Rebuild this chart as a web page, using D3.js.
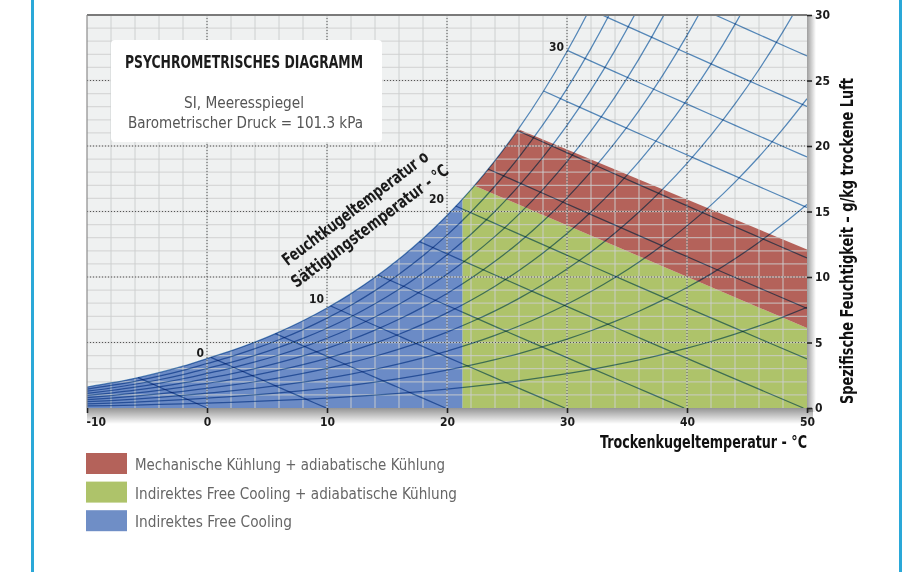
<!DOCTYPE html>
<html>
<head>
<meta charset="utf-8">
<script src="https://cdn.jsdelivr.net/npm/d3@7"></script>
<style>
body { margin: 0; background: #fff; }
svg { display: block; }
text { font-family: 'Liberation Sans Narrow', 'DejaVu Sans Condensed', Roboto, sans-serif; }
</style>
</head>
<body>
<script>
// dry bulb temperatures of the saturation table (°C)
var tempTable = [-10, -8, -6, -4, -2, 0, 2, 4, 6, 8, 10, 12, 14, 16, 18, 20,
                 22, 24, 26, 28, 30, 32, 34, 36, 38, 40, 42, 44, 46, 48, 50];
// saturation vapour pressure (kPa) for those temperatures
var satPressure = [0.2600, 0.3102, 0.3681, 0.4375, 0.5177, 0.6112, 0.7060, 0.8135,
                   0.9353, 1.0729, 1.2282, 1.4028, 1.5990, 1.8188, 2.0647, 2.3392,
                   2.6452, 2.9856, 3.3637, 3.7828, 4.2467, 4.7592, 5.3247, 5.9479,
                   6.6338, 7.3844, 8.2054, 9.1123, 10.103, 11.185, 12.352];
var rhLevels = [10, 20, 30, 40, 50, 60, 70, 80, 90];
var enthalpyLevels = [0, 10, 20, 30, 40, 50, 60, 70, 80, 90, 100, 110, 120];
var satLabels = [0, 10, 20, 30];
var xTicks = [-10, 0, 10, 20, 30, 40, 50];
var yTicks = [0, 5, 10, 15, 20, 25, 30];

// zone limits (°C, g/kg)
var freeCoolingLimit = 21.3;
var greenTopLine = [[22.2, 17.0], [50, 6.1]];
var redTopLine = [[25.9, 21.3], [50, 12.1]];

var legendLabels = ["Mechanische Kühlung + adiabatische Kühlung",
                    "Indirektes Free Cooling + adiabatische Kühlung",
                    "Indirektes Free Cooling"];
var legendColors = ["#b4625a", "#aec36a", "#6f8ec6"];

var width = 903, height = 572;
var plot = {left: 87, right: 807, top: 15, bottom: 408};
var P = 101.325;

var x = d3.scaleLinear().domain([-10, 50]).range([plot.left, plot.right]);
var y = d3.scaleLinear().domain([0, 30]).range([plot.bottom, plot.top]);

function humidity(p, phi) { return 622 * phi * p / (P - phi * p); }
function enthalpyW(h, t) { return 1000 * (h - 1.006 * t) / (2501 + 1.86 * t); }

var satPoints = tempTable.map(function(t, i) { return [t, humidity(satPressure[i], 1)]; });

var svg = d3.select("body").append("svg")
    .attr("width", width)
    .attr("height", height);

var defs = svg.append("defs");
defs.append("clipPath").attr("id", "plotClip").append("rect")
    .attr("x", plot.left).attr("y", plot.top)
    .attr("width", plot.right - plot.left).attr("height", plot.bottom - plot.top);

var satArea = d3.area()
    .x(function(d) { return x(d[0]); })
    .y0(y(0))
    .y1(function(d) { return y(d[1]); })
    .curve(d3.curveMonotoneX);
defs.append("clipPath").attr("id", "satClip").append("path").attr("d", satArea(satPoints));

var gr = defs.append("linearGradient").attr("id", "shadowR").attr("x1", 0).attr("x2", 1).attr("y1", 0).attr("y2", 0);
gr.append("stop").attr("offset", 0).attr("stop-color", "#000").attr("stop-opacity", 0.38);
gr.append("stop").attr("offset", 1).attr("stop-color", "#000").attr("stop-opacity", 0);
var gb = defs.append("linearGradient").attr("id", "shadowB").attr("x1", 0).attr("x2", 0).attr("y1", 0).attr("y2", 1);
gb.append("stop").attr("offset", 0).attr("stop-color", "#000").attr("stop-opacity", 0.42);
gb.append("stop").attr("offset", 1).attr("stop-color", "#000").attr("stop-opacity", 0);

// page frame
[32.5, 900.5].forEach(function(fx) {
    svg.append("line").attr("x1", fx).attr("x2", fx).attr("y1", 0).attr("y2", height)
        .attr("stroke", "#2aa8d8").attr("stroke-width", 3);
});

// drop shadows
svg.append("rect").attr("x", plot.right).attr("y", plot.top)
    .attr("width", 9).attr("height", plot.bottom - plot.top + 4).attr("fill", "url(#shadowR)");
svg.append("rect").attr("x", plot.left).attr("y", plot.bottom)
    .attr("width", plot.right - plot.left + 6).attr("height", 16).attr("fill", "url(#shadowB)");

svg.append("rect").attr("x", plot.left).attr("y", plot.top)
    .attr("width", plot.right - plot.left).attr("height", plot.bottom - plot.top)
    .attr("fill", "#eff1f1");

var poly = d3.line().x(function(d) { return x(d[0]); }).y(function(d) { return y(d[1]); });

var zones = svg.append("g").attr("clip-path", "url(#plotClip)")
    .append("g").attr("clip-path", "url(#satClip)");

var blueZone = [[-10, 0], [-10, 30], [freeCoolingLimit, 30], [freeCoolingLimit, 0]];
var greenZone = [[freeCoolingLimit, 0], [freeCoolingLimit, greenTopLine[0][1]],
                 greenTopLine[0], greenTopLine[1], [50, 0]];
var redZone = [greenTopLine[0], greenTopLine[1], redTopLine[1], redTopLine[0],
               [greenTopLine[0][0], redTopLine[0][1]]];

zones.append("path").attr("d", poly(blueZone) + "Z").attr("fill", "#6b8bc6");
zones.append("path").attr("d", poly(greenZone) + "Z").attr("fill", legendColors[1]);
zones.append("path").attr("d", poly(redZone) + "Z").attr("fill", legendColors[0]);

// minor grid
var grid = svg.append("g").attr("stroke", "#cdcfcf").attr("stroke-opacity", 0.72).attr("stroke-width", 1.3);
d3.range(-8, 50, 2).forEach(function(t) {
    grid.append("line").attr("x1", x(t)).attr("x2", x(t)).attr("y1", plot.top).attr("y2", plot.bottom);
});
d3.range(1, 30, 1).forEach(function(w) {
    grid.append("line").attr("x1", plot.left).attr("x2", plot.right).attr("y1", y(w)).attr("y2", y(w));
});

// dotted major grid
var major = svg.append("g").attr("stroke", "#555").attr("stroke-width", 1).attr("stroke-dasharray", "1,2");
xTicks.slice(1, -1).forEach(function(t) {
    major.append("line").attr("x1", x(t)).attr("x2", x(t)).attr("y1", plot.top).attr("y2", plot.bottom);
});
yTicks.slice(1, -1).forEach(function(w) {
    major.append("line").attr("x1", plot.left).attr("x2", plot.right).attr("y1", y(w)).attr("y2", y(w));
});

// psychrometric lines, multiplied over the zones so they darken there
var lines = svg.append("g")
    .attr("fill", "none").attr("stroke", "#5b90c4").attr("stroke-width", 1.25);

var curve = d3.line().x(function(d) { return x(d[0]); }).y(function(d) { return y(d[1]); })
    .curve(d3.curveMonotoneX);

function addLine(pts) {
    lines.append("path").attr("d", curve(pts))
        .attr("clip-path", "url(#plotClip)")
        .style("mix-blend-mode", "multiply");
}

addLine(satPoints);
rhLevels.forEach(function(rh) {
    addLine(tempTable.map(function(t, i) { return [t, humidity(satPressure[i], rh / 100)]; }));
});

function satCrossing(h) {
    for (var i = 0; i < tempTable.length - 1; i++) {
        var a = enthalpyW(h, tempTable[i]) - satPoints[i][1];
        var b = enthalpyW(h, tempTable[i + 1]) - satPoints[i + 1][1];
        if (a > 0 && b <= 0) return tempTable[i] + (tempTable[i + 1] - tempTable[i]) * a / (a - b);
    }
    return tempTable[0];
}
enthalpyLevels.forEach(function(h) {
    var t0 = satCrossing(h), t1 = Math.min(50, h / 1.006);
    var pts = [];
    for (var k = 0; k <= 10; k++) {
        var t = t0 + (t1 - t0) * k / 10;
        pts.push([t, Math.max(0, enthalpyW(h, t))]);
    }
    addLine(pts);
});

// borders
svg.append("line").attr("x1", plot.left).attr("x2", plot.right).attr("y1", plot.top).attr("y2", plot.top)
    .attr("stroke", "#7a7a7a").attr("stroke-width", 2);
svg.append("line").attr("x1", plot.left).attr("x2", plot.left).attr("y1", plot.top).attr("y2", plot.bottom)
    .attr("stroke", "#8c8c8c").attr("stroke-width", 1.2);

// axes
var xAxis = svg.append("g")
    .attr("transform", "translate(0," + plot.bottom + ")")
    .call(d3.axisBottom(x).tickValues(xTicks).tickSize(5).tickPadding(4).tickFormat(function(d) { return String(d); }));
var yAxis = svg.append("g")
    .attr("transform", "translate(" + plot.right + ",0)")
    .call(d3.axisRight(y).tickValues(yTicks).tickSize(5).tickPadding(3).tickFormat(function(d) { return String(d); }));
[xAxis, yAxis].forEach(function(a) {
    a.select(".domain").remove();
    a.selectAll(".tick line").attr("stroke", "#222").attr("stroke-width", 1.6);
    a.selectAll(".tick text").attr("fill", "#1a1a1a")
        .style("font-size", "12px").style("font-weight", "bold")
        .style("font-family", "'Liberation Sans Narrow', 'DejaVu Sans Condensed', Roboto, sans-serif");
});
xAxis.selectAll(".tick text").filter(function(d) { return d === -10; })
    .attr("text-anchor", "start").attr("x", -1);

// saturation temperature labels
var labelNudge = {0: -2, 10: -5, 20: -12, 30: -1};
satLabels.forEach(function(t) {
    var i = tempTable.indexOf(t);
    svg.append("text")
        .attr("x", x(t) - 3)
        .attr("y", y(satPoints[i][1]) + labelNudge[t])
        .attr("text-anchor", "end")
        .attr("fill", "#1a1a1a")
        .style("font-size", "12px").style("font-weight", "bold")
        .text(t);
});

// title box
svg.append("rect").attr("x", 111).attr("y", 40).attr("width", 271).attr("height", 102)
    .attr("rx", 4).attr("fill", "#fff");
svg.append("text").attr("x", 244).attr("y", 68).attr("text-anchor", "middle")
    .attr("fill", "#1c1c1c").style("font-size", "18px").style("font-weight", "bold")
    .attr("textLength", 238).attr("lengthAdjust", "spacingAndGlyphs")
    .text("PSYCHROMETRISCHES DIAGRAMM");
svg.append("text").attr("x", 244).attr("y", 108).attr("text-anchor", "middle")
    .attr("fill", "#555").style("font-size", "16.5px")
    .attr("textLength", 120).attr("lengthAdjust", "spacingAndGlyphs")
    .text("SI, Meeresspiegel");
svg.append("text").attr("x", 245.5).attr("y", 128).attr("text-anchor", "middle")
    .attr("fill", "#555").style("font-size", "16.5px")
    .attr("textLength", 235).attr("lengthAdjust", "spacingAndGlyphs")
    .text("Barometrischer Druck = 101.3 kPa");

// rotated wet bulb caption
var cap = svg.append("g").attr("transform", "translate(355,208) rotate(-37)");
cap.append("text").attr("x", 0).attr("y", 0).attr("dy", "0.35em").attr("text-anchor", "middle")
    .attr("fill", "#1a1a1a").style("font-size", "17px").style("font-weight", "bold")
    .attr("textLength", 178).attr("lengthAdjust", "spacingAndGlyphs")
    .text("Feuchtkugeltemperatur o");
cap.append("text").attr("x", 1).attr("y", 23).attr("dy", "0.35em").attr("text-anchor", "middle")
    .attr("fill", "#1a1a1a").style("font-size", "17px").style("font-weight", "bold")
    .attr("textLength", 192).attr("lengthAdjust", "spacingAndGlyphs")
    .text("Sättigungstemperatur - °C");

// axis titles
svg.append("text").attr("x", 807).attr("y", 448).attr("text-anchor", "end")
    .attr("fill", "#111").style("font-size", "17.5px").style("font-weight", "bold")
    .attr("textLength", 207).attr("lengthAdjust", "spacingAndGlyphs")
    .text("Trockenkugeltemperatur - °C");
svg.append("text").attr("transform", "translate(853,241) rotate(-90)").attr("text-anchor", "middle")
    .attr("fill", "#111").style("font-size", "17.5px").style("font-weight", "bold")
    .attr("textLength", 326).attr("lengthAdjust", "spacingAndGlyphs")
    .text("Spezifische Feuchtigkeit – g/kg trockene Luft");

// legend
var legendWidths = [310, 322, 157];
var legend = svg.append("g").selectAll("g").data(legendLabels).enter().append("g")
    .attr("transform", function(d, i) { return "translate(86," + (453 + i * 28.6) + ")"; });
legend.append("rect").attr("width", 41).attr("height", 21)
    .attr("fill", function(d, i) { return legendColors[i]; });
legend.append("text").attr("x", 49).attr("y", 17)
    .attr("fill", "#666").style("font-size", "16.5px")
    .attr("textLength", function(d, i) { return legendWidths[i]; })
    .attr("lengthAdjust", "spacingAndGlyphs")
    .text(function(d) { return d; });
</script>
</body>
</html>
